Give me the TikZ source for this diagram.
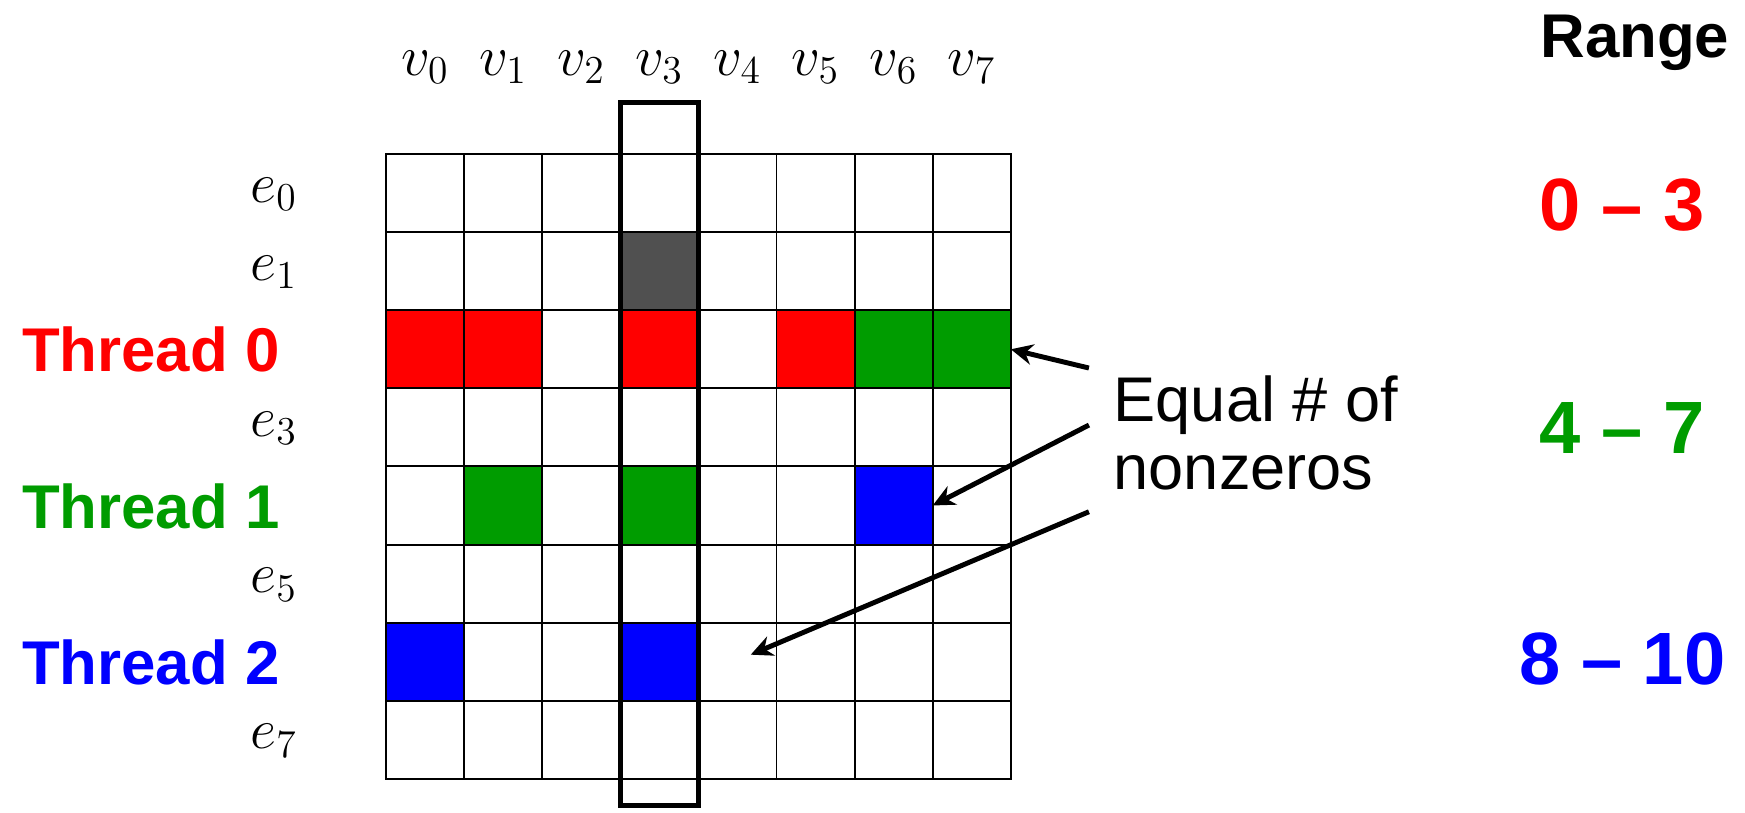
\documentclass[tikz,border=0pt]{standalone}
\usepackage{fontspec}
\setmainfont{Liberation Sans}
\usepackage{tikz}
\usetikzlibrary{arrows.meta,positioning,calc}
\definecolor{ThrRed}{HTML}{FF0000}
\definecolor{ThrGreen}{HTML}{009C00}
\definecolor{ThrBlue}{HTML}{0000FF}
\definecolor{CellGray}{HTML}{505050}

\begin{document}
\begin{tikzpicture}[
  cell/.style={draw,minimum size=1cm,inner sep=0pt,outer sep=0pt,line width=0.7pt},
  hilite/.style={draw,line width=1.8pt,minimum width=1cm,minimum height=9cm,inner sep=0pt},
  collab/.style={inner sep=0pt,font=\fontsize{20.74}{25}\selectfont},
  thread/.style={inner sep=0pt,font=\fontsize{22.5}{27}\selectfont\bfseries},
  rng/.style={inner sep=0pt,font=\fontsize{27}{32}\selectfont\bfseries},
  note/.style={inner sep=0pt,align=left,font=\fontsize{23}{25}\selectfont},
  arr/.style={-{Stealth[length=8pt,width=7.5pt]},line width=1.8pt},
]
\useasboundingbox (-4.942,-8.425) rectangle (17.40,1.972);
% nonzero entries
\foreach \r/\c/\col in {1/3/CellGray,2/0/ThrRed,2/1/ThrRed,2/3/ThrRed,2/5/ThrRed,2/6/ThrGreen,2/7/ThrGreen,
  4/1/ThrGreen,4/3/ThrGreen,4/6/ThrBlue,6/0/ThrBlue,6/3/ThrBlue}
  \fill[\col] (\c,-\r) rectangle ++(1,-1);
% matrix grid
\foreach \r in {0,...,7}
  \foreach \c in {0,...,7}
    \node[cell] (m\r\c) at (\c+0.5,-\r-0.5) {};
\node[hilite] (hl) at (3.5,-3.84) {};
% vertex and edge labels
\foreach \c in {0,...,7}
  \node[collab,anchor=base] (v\c) at (\c+0.5,1.01) {$v_{\c}$};
\foreach \r in {0,1,3,5,7}
  \node[collab,anchor=base east] (e\r) at (-1.13,-\r-0.615) {$e_{\r}$};
\node[thread,ThrRed,anchor=base east] (t0) at (-1.357,-2.79) {Thread 0};
\node[thread,ThrGreen,anchor=base east] (t1) at (-1.357,-4.79) {Thread 1};
\node[thread,ThrBlue,anchor=base east] (t2) at (-1.357,-6.79) {Thread 2};
% ranges
\node[thread,anchor=base] (range) at (15.99,1.24) {Range};
\node[rng,ThrRed,anchor=base] (r0) at (15.83,-0.973) {0 – 3};
\node[rng,ThrGreen,anchor=base] (r1) at (15.83,-3.83) {4 – 7};
\node[rng,ThrBlue,anchor=base] (r2) at (15.83,-6.79) {8 – 10};
% note and arrows
\node[note,anchor=base west] (eq) at (9.31,-4.30) {Equal \# of\\nonzeros};
\coordinate (a1) at (9.0,-2.74);
\coordinate (a2) at (9.0,-3.47);
\coordinate (a3) at (9.0,-4.58);
\coordinate (t3) at (4.67,-6.41);
\draw[arr] (a1) -- (m27.east);
\draw[arr] (a2) -- (m46.east);
\draw[arr] (a3) -- (t3);
\end{tikzpicture}
\end{document}
